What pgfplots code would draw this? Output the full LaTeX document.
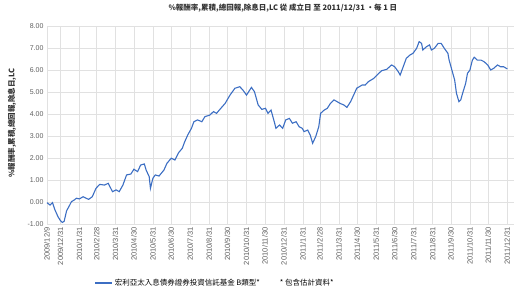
\documentclass[border=0pt]{standalone}
\usepackage{pgfplots}
\pgfplotsset{compat=1.18}
\usepackage{fontspec}
\setmainfont{Liberation Sans}
\newfontfamily\cjk{Noto Sans CJK TC}
\definecolor{lineblue}{RGB}{60,110,195}
\definecolor{gridgray}{RGB}{225,225,225}
\definecolor{ticktext}{RGB}{95,95,95}
\begin{document}
\begin{tikzpicture}[x=1pt,y=1pt]
\path[use as bounding box] (0,0) rectangle (514,302);
\begin{axis}[
  at={(47pt,78pt)}, anchor=south west,
  scale only axis, width=467pt, height=198pt,
  xmin=0, xmax=763, ymin=-1, ymax=8,
  ytick={-1,0,...,8},
  /pgf/number format/fixed, /pgf/number format/fixed zerofill, /pgf/number format/precision=2,
  /pgf/number format/assume math mode=true,
  xtick={0,22,53,81,112,142,173,203,234,265,295,326,356,387,418,446,477,507,538,568,599,630,660,691,721,752},
  xticklabels={2009/12/9,2009/12/31,2010/1/31,2010/2/28,2010/3/31,2010/4/30,2010/5/31,2010/6/30,2010/7/31,2010/8/31,2010/9/30,2010/10/31,2010/11/30,2010/12/31,2011/1/31,2011/2/28,2011/3/31,2011/4/30,2011/5/31,2011/6/30,2011/7/31,2011/8/31,2011/9/30,2011/10/31,2011/11/30,2011/12/31},
  x tick label style={rotate=90, anchor=east, font=\fontsize{7.5}{8}\selectfont, text=ticktext},
  y tick label style={font=\fontsize{7}{8}\selectfont, text=ticktext},
  grid=major, major grid style={gridgray, line width=0.6pt},
  axis line style={gridgray, line width=0.6pt},
  tick style={draw=none},
  legend style={at={(axis description cs:0.36,-0.298)}, anchor=center, draw=none, fill=none,
    font=\cjk\fontsize{7.5}{8}\selectfont, legend columns=2,
    /tikz/every even column/.append style={column sep=16pt}},
  legend cell align=left,
  clip=false,
]
\addplot[lineblue, line width=1.1pt] coordinates {
(0,-0.03) (5,-0.14) (9,-0.03) (13,-0.36) (18,-0.67) (22,-0.85) (25,-0.93) (28,-0.88)
(32,-0.4) (36,-0.2) (40,0.02) (44,0.08) (48,0.17) (53,0.14) (59,0.24) (64,0.17)
(68,0.12) (74,0.24) (80,0.62) (86,0.8) (94,0.77) (100,0.85) (107,0.47) (113,0.55)
(118,0.47) (124,0.77) (130,1.23) (137,1.27) (142,1.49) (148,1.38) (153,1.68) (159,1.73)
(162,1.45) (167,1.15) (169,0.62) (173,1.08) (177,1.23) (183,1.18) (191,1.45) (196,1.76)
(203,1.99) (209,1.91) (215,2.24) (221,2.44) (225,2.74) (230,3.05) (236,3.35) (240,3.65)
(246,3.73) (253,3.65) (258,3.88) (266,3.95) (272,4.11) (277,4.03) (284,4.26) (291,4.48)
(299,4.86) (307,5.17) (315,5.24) (320,5.09) (326,4.86) (334,5.21) (339,5.01) (345,4.41)
(351,4.21) (357,4.26) (361,4.03) (366,4.18) (372,3.58) (374,3.35) (380,3.5) (385,3.35)
(390,3.73) (396,3.8) (401,3.58) (407,3.65) (412,3.42) (417,3.35) (420,3.2) (426,3.27)
(430,3.05) (434,2.67) (439,2.97) (444,3.42) (447,4.03) (453,4.18) (458,4.26) (463,4.48)
(469,4.64) (474,4.56) (479,4.48) (485,4.41) (490,4.3) (496,4.56) (501,4.86) (506,5.17)
(515,5.32) (520,5.32) (525,5.47) (534,5.62) (542,5.85) (547,5.97) (555,6.03) (563,6.23)
(568,6.15) (574,5.92) (577,5.77) (582,6.15) (587,6.53) (593,6.68) (598,6.76) (604,6.99)
(608,7.29) (612,7.21) (614,6.91) (620,7.06) (625,7.14) (628,6.91) (633,6.99) (639,7.21)
(644,7.21) (649,6.99) (655,6.76) (657,6.45) (660,6.15) (663,5.85) (666,5.55) (669,4.94)
(673,4.56) (676,4.64) (679,4.94) (684,5.39) (687,5.85) (691,6.0) (695,6.45) (698,6.58)
(703,6.45) (709,6.45) (714,6.38) (720,6.23) (725,6.0) (730,6.08) (736,6.23) (741,6.15)
(746,6.15) (752,6.05)
};
\addlegendentry{宏利亞太入息債券證券投資信託基金 B類型*}
\addlegendimage{empty legend}
\addlegendentry{* 包含估計資料*}
\node[font=\cjk\bfseries\fontsize{7.5}{8}\selectfont, text=black!80] at (axis description cs:0.505,1.091) {\%報酬率,累積,總回報,除息日,LC 從 成立日 至 2011/12/31 •每 1 日};
\node[font=\cjk\bfseries\fontsize{7.5}{8}\selectfont, text=black!80, rotate=90] at (axis description cs:-0.075,0.51) {\%報酬率,累積,總回報,除息日,LC};
\end{axis}
\end{tikzpicture}
\end{document}
